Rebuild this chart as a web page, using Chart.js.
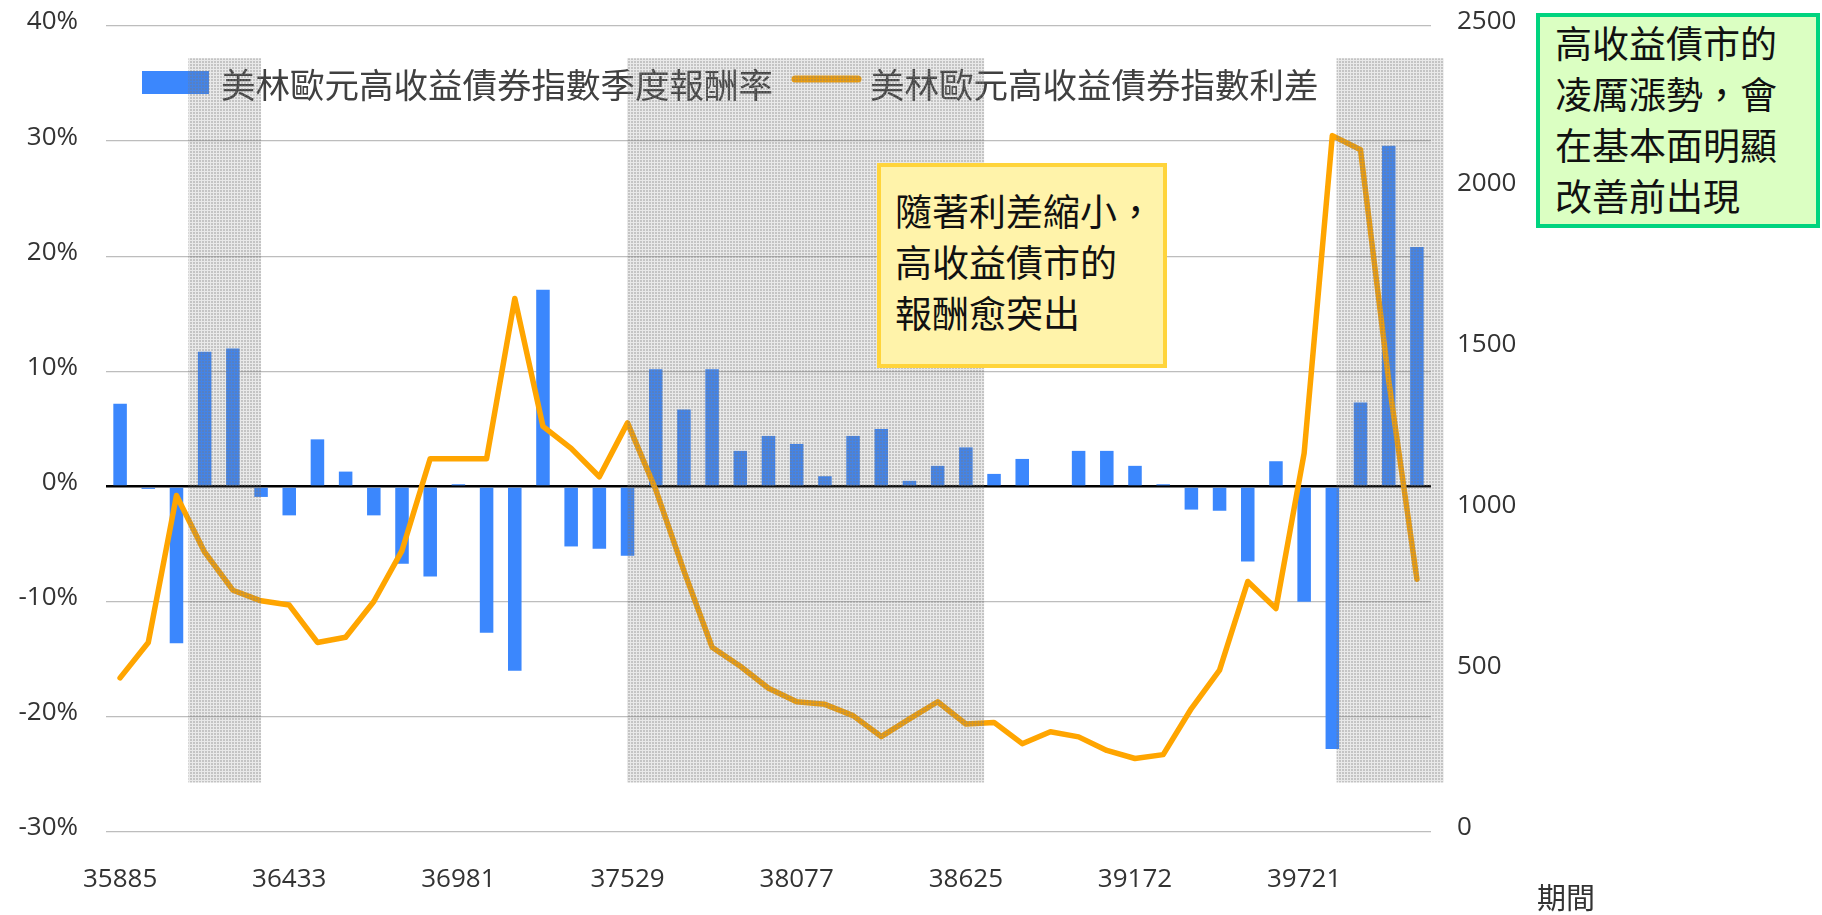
<!DOCTYPE html>
<html lang="zh-Hant">
<head>
<meta charset="utf-8">
<title>美林歐元高收益債券指數</title>
<script src="https://cdn.jsdelivr.net/npm/chart.js@4.4.1/dist/chart.umd.min.js"></script>
<style>
  body { margin: 0; background: #fff; }
  .wrap { position: relative; width: 1822px; height: 915px; overflow: hidden; }
  #chart { position: absolute; left: 0; top: 0; }
  .note {
    position: absolute;
    box-sizing: border-box;
    font-family: "Noto Sans CJK TC", sans-serif;
    font-size: 37px;
    line-height: 51px;
    color: #111;
    white-space: nowrap;
  }
  .note-yellow { left: 877px; top: 163px; width: 290px; height: 205px; background: #fff3aa; border: 4px solid #ffd43b; padding: 18px 0 0 14px; }
  .note-green { left: 1536px; top: 13px; width: 284px; height: 215px; background: #dbffc2; border: 4px solid #00d47f; padding: 0 0 0 15px; }
  .axis-name { position: absolute; left: 1537px; top: 882px; font-family: "Noto Sans CJK TC", sans-serif; font-size: 29px; line-height: 1; color: #333; }
</style>
</head>
<body>
<div class="wrap">
  <canvas id="chart" width="1822" height="915"></canvas>
  <div class="note note-yellow">隨著利差縮小，<br>高收益債市的<br>報酬愈突出</div>
  <div class="note note-green">高收益債市的<br>凌厲漲勢，會<br>在基本面明顯<br>改善前出現</div>
  <div class="axis-name">期間</div>
</div>
<script>
// quarter-end dates (Excel serial numbers), 1998Q1 .. 2009Q3
const quarters = [
  35885, 35976, 36068, 36160, 36250, 36341, 36433, 36525, 36616, 36707,
  36799, 36891, 36981, 37072, 37164, 37256, 37346, 37437, 37529, 37621,
  37711, 37802, 37894, 37986, 38077, 38168, 38260, 38352, 38442, 38533,
  38625, 38717, 38807, 38898, 38990, 39082, 39172, 39263, 39355, 39447,
  39538, 39629, 39721, 39813, 39903, 39994, 40086,
];

// quarterly return (%)
const returnPct = [
  7.2, -0.2, -13.6, 11.7, 12.0, -0.9, -2.5, 4.1, 1.3, -2.5,
  -6.7, -7.8, 0.2, -12.7, -16.0, 17.1, -5.2, -5.4, -6.0, 10.2,
  6.7, 10.2, 3.1, 4.4, 3.7, 0.9, 4.4, 5.0, 0.5, 1.8,
  3.4, 1.1, 2.4, 0.0, 3.1, 3.1, 1.8, 0.2, -2.0, -2.1,
  -6.5, 2.2, -10.0, -22.8, 7.3, 29.6, 20.8,
];

// index spread (bp)
const spreadBp = [
  478, 588, 1044, 868, 750, 717, 704, 588, 604, 715,
  873, 1158, 1158, 1158, 1655, 1258, 1190, 1102, 1269, 1062,
  810, 573, 514, 446, 404, 396, 361, 296, 351, 404,
  335, 340, 274, 311, 295, 253, 228, 240, 383, 502,
  777, 693, 1175, 2160, 2116, 1400, 784,
];

const seriesNames = ["美林歐元高收益債券指數季度報酬率", "美林歐元高收益債券指數利差"];
const leftTicks = [-30, -20, -10, 0, 10, 20, 30, 40];
const rightTicks = [0, 500, 1000, 1500, 2000, 2500];
const labelEvery = 6;

// shaded periods, in category index units
const shadePeriods = [[2.42, 5.0], [17.98, 30.65], [43.15, 46.95]];
const shadeRange = [37.2, -25.7]; // on the left axis

const tickFont = { family: "'Open Sans', 'DejaVu Sans', sans-serif", size: 26 };

function makeTile(ctx) {
  const tile = document.createElement("canvas");
  tile.width = 3;
  tile.height = 3;
  const g = tile.getContext("2d");
  g.fillStyle = "rgba(120,120,120,0.44)";
  g.fillRect(1, 1, 2, 2);
  g.fillStyle = "rgba(120,120,120,0.16)";
  g.fillRect(0, 0, 3, 1);
  g.fillRect(0, 1, 1, 2);
  return ctx.createPattern(tile, "repeat");
}

// fixed box sizes so the plot area sits where the original one does
function fixWidth(w) {
  return (scale) => {
    scale.width = w;
    scale.paddingTop = 0;
    scale.paddingBottom = 0;
  };
}

const innerLegend = {
  id: "innerLegend",
  beforeDatasetsDraw(chart) {
    const ctx = chart.ctx;
    const [bars, line] = chart.data.datasets;
    ctx.save();
    ctx.font = '34.5px "Noto Sans CJK TC"';
    ctx.textBaseline = "middle";
    ctx.fillStyle = bars.backgroundColor;
    ctx.fillRect(142, 71, 67, 23);
    ctx.fillStyle = "#404040";
    ctx.fillText(bars.label, 221, 85);
    ctx.strokeStyle = line.borderColor;
    ctx.lineWidth = 7;
    ctx.lineCap = "round";
    ctx.beginPath();
    ctx.moveTo(795, 79);
    ctx.lineTo(858, 79);
    ctx.stroke();
    ctx.fillText(line.label, 870, 85);
    ctx.restore();
  },
};

const shading = {
  id: "shading",
  afterDatasetsDraw(chart) {
    const { ctx, scales } = chart;
    const top = scales.y.getPixelForValue(shadeRange[0]);
    const bottom = scales.y.getPixelForValue(shadeRange[1]);
    ctx.save();
    ctx.fillStyle = makeTile(ctx);
    shadePeriods.forEach(([from, to]) => {
      const x1 = scales.x.getPixelForValue(from);
      const x2 = scales.x.getPixelForValue(to);
      ctx.fillRect(x1, top, x2 - x1, bottom - top);
    });
    ctx.restore();
  },
};

const ctx = document.getElementById("chart");

const myChart = new Chart(ctx, {
  type: "bar",
  data: {
    labels: quarters.map(String),
    datasets: [
      {
        type: "bar",
        label: seriesNames[0],
        data: returnPct,
        yAxisID: "y",
        backgroundColor: "#3b87fd",
        barPercentage: 0.48,
        categoryPercentage: 1,
        order: 1,
      },
      {
        type: "line",
        label: seriesNames[1],
        data: spreadBp,
        yAxisID: "y2",
        borderColor: "#ffa500",
        borderWidth: 5.5,
        borderJoinStyle: "round",
        borderCapStyle: "round",
        pointRadius: 0,
        tension: 0,
        order: 0,
      },
    ],
  },
  options: {
    responsive: false,
    animation: false,
    devicePixelRatio: 1,
    layout: { padding: { top: 26, left: 0, right: 0, bottom: 0 } },
    plugins: {
      legend: { display: false },
      tooltip: { enabled: false },
    },
    scales: {
      x: {
        grid: { display: false },
        border: { display: false },
        ticks: {
          autoSkip: false,
          maxRotation: 0,
          minRotation: 0,
          padding: 24,
          color: "#333",
          font: tickFont,
          callback: (val, i) => (i % labelEvery === 0 ? String(quarters[i]) : ""),
        },
        afterFit(scale) {
          scale.height = 83;
          scale.paddingLeft = 0;
          scale.paddingRight = 0;
        },
      },
      y: {
        position: "left",
        min: leftTicks[0],
        max: leftTicks[leftTicks.length - 1],
        border: { display: false },
        grid: {
          drawTicks: false,
          color: (c) => (c.tick.value === 0 ? "#000" : "#bdbdbd"),
          lineWidth: (c) => (c.tick.value === 0 ? 2.5 : 1.3),
        },
        ticks: {
          stepSize: leftTicks[1] - leftTicks[0],
          padding: 28,
          labelOffset: -4,
          color: "#333",
          font: tickFont,
          callback: (v) => v + "%",
        },
        afterFit: fixWidth(106),
      },
      y2: {
        position: "right",
        min: rightTicks[0],
        max: rightTicks[rightTicks.length - 1],
        border: { display: false },
        grid: { display: false, drawTicks: false },
        ticks: {
          stepSize: rightTicks[1] - rightTicks[0],
          padding: 26,
          labelOffset: -4,
          color: "#333",
          font: tickFont,
          callback: (v) => String(v),
        },
        afterFit: fixWidth(391),
      },
    },
  },
  plugins: [innerLegend, shading],
});
</script>
</body>
</html>
